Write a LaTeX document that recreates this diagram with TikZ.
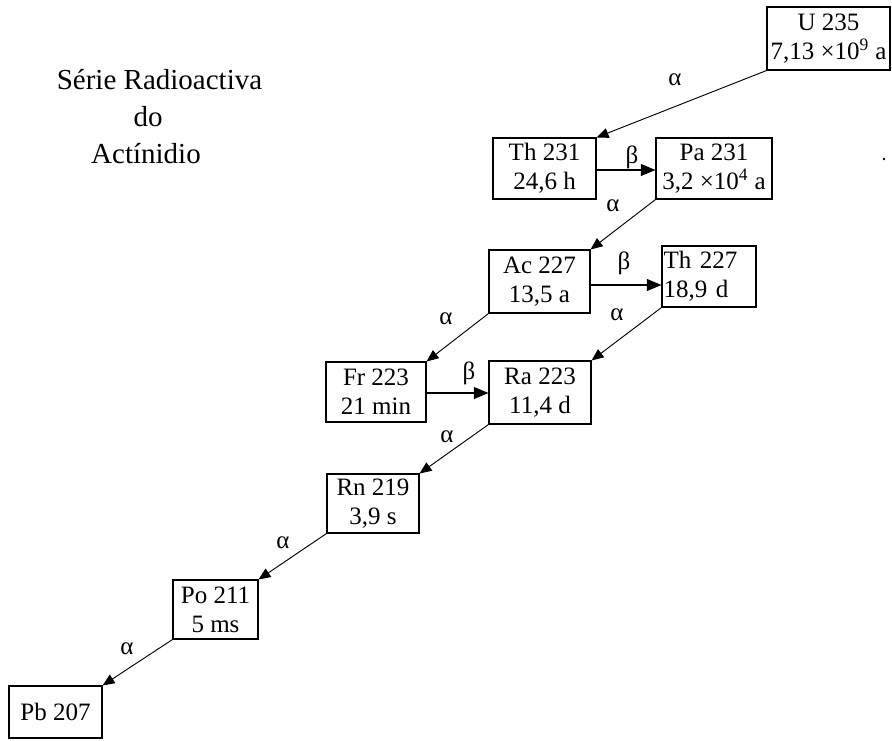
\documentclass[tikz,border=0pt]{standalone}
\usepackage{fontspec}
\setmainfont{Liberation Serif}
\usetikzlibrary{arrows.meta,calc}
\begin{document}
\begin{tikzpicture}[x=0.75pt,y=-0.75pt,
  box/.style={draw, line width=0.8pt, inner sep=1pt, align=center,
    font=\fontsize{18.75}{21.5}\selectfont},
  lbl/.style={inner sep=0pt, font=\fontsize{18.75}{21.5}\selectfont},
  ttl/.style={inner sep=0pt, anchor=base, font=\fontsize{21.75}{26}\selectfont},
  arra/.style={line width=0.7pt, -{Triangle[length=9pt,width=7.5pt]}},
  arrb/.style={line width=0.8pt, -{Triangle[length=11pt,width=9pt]}}]
\useasboundingbox (0,0) rectangle (892,740);

% title
\node[ttl] (t1) at (159.5,89) {Série Radioactiva};
\node[ttl] (t2) at (148,126) {do};
\node[ttl] (t3) at (146,163) {Actínidio};

% boxes
\node[box, minimum width=92.25pt, minimum height=47.25pt] (u235) at (828.5,38.5) {U 235\\7,13 ×10\textsuperscript{9} a};
\node[box, minimum width=77.25pt, minimum height=45.75pt] (th231) at (544.5,168.5) {Th 231\\24,6 h};
\node[box, minimum width=87pt, minimum height=45.75pt] (pa231) at (714,168.5) {Pa 231\\3,2 ×10\textsuperscript{4} a};
\node[box, minimum width=75.75pt, minimum height=47.25pt] (ac227) at (539.5,281.5) {Ac 227\\13,5 a};
\node[box, minimum width=70.5pt, minimum height=45.75pt, text width=68pt, align=left] (th227) at (709,276.5) {Th 227\\18,9 d};
\node[box, minimum width=75pt, minimum height=45pt] (fr223) at (376,392) {Fr 223\\21 min};
\node[box, minimum width=76.5pt, minimum height=47.25pt] (ra223) at (540,392.5) {Ra 223\\11,4 d};
\node[box, minimum width=69pt, minimum height=44.25pt] (rn219) at (373,503.5) {Rn 219\\3,9 s};
\node[box, minimum width=63.75pt, minimum height=44.25pt] (po211) at (215.5,609.5) {Po 211\\5 ms};
\node[box, minimum width=69.75pt, minimum height=39pt] (pb207) at (55.5,712) {Pb 207};

% stray dot
\node[circle, fill, inner sep=0pt, minimum size=2pt] (dot) at (884,159) {};

% alpha decays
\draw[arra] (u235.south west) -- (th231.north east);
\draw[arra] (pa231.south west) -- (ac227.north east);
\draw[arra] (ac227.south west) -- (fr223.north east);
\draw[arra] (th227.south west) -- (ra223.north east);
\draw[arra] (ra223.south west) -- (rn219.north east);
\draw[arra] (rn219.south west) -- (po211.north east);
\draw[arra] (po211.south west) -- (pb207.north east);

% beta decays
\coordinate (b1) at ($(th231.east)+(0,1.5)$);
\draw[arrb] (b1) -- (b1 -| pa231.west);
\coordinate (b2) at ($(ac227.east)+(0,3.5)$);
\draw[arrb] (b2) -- (b2 -| th227.west);
\coordinate (b3) at ($(fr223.east)+(0,1)$);
\draw[arrb] (b3) -- (b3 -| ra223.west);

% labels
\node[lbl] (a1) at (675,80) {α};
\node[lbl] (a2) at (613,206) {α};
\node[lbl] (a3) at (446,319) {α};
\node[lbl] (a4) at (617,315) {α};
\node[lbl] (a5) at (447,437) {α};
\node[lbl] (a6) at (283,543) {α};
\node[lbl] (a7) at (127,649) {α};
\node[lbl] (be1) at (632,157) {β};
\node[lbl] (be2) at (624,263) {β};
\node[lbl] (be3) at (469,373) {β};
\end{tikzpicture}
\end{document}
